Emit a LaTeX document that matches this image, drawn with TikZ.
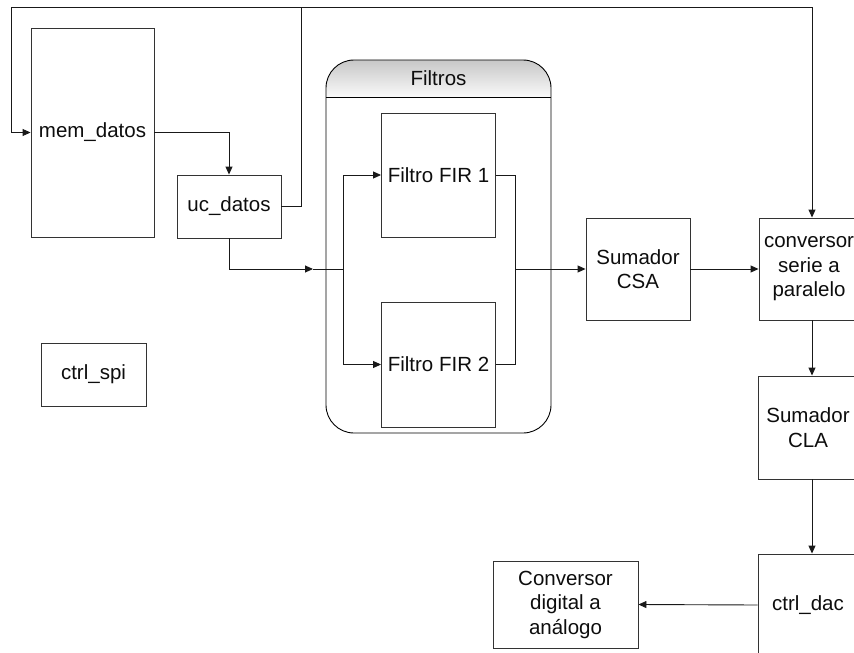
\documentclass[tikz,border=0pt]{standalone}
\usepackage{fontspec}
\setmainfont{Liberation Sans}
\usetikzlibrary{arrows.meta}
\begin{document}
\begin{tikzpicture}[x=1pt,y=-1pt,
  block/.style={draw=black!80, line width=0.9pt, rectangle, align=center,
    inner sep=0pt, font=\fontsize{20.5}{24.5}\selectfont, text=black!95},
  wire/.style={line width=0.9pt, draw=black!90},
  arrow/.style={wire, -{Triangle[length=8pt,width=7pt]}}]
  \useasboundingbox (0,0) rectangle (854,653);
  \clip (0,0) rectangle (854,653);

  % group frame of the two filters, with shaded title bar
  \begin{scope}
    \clip[rounded corners=28pt] (326,60) rectangle (551,433);
    \shade[top color=black!22, bottom color=black!2] (326,60) rectangle (551,97);
  \end{scope}
  \draw[line width=0.9pt, rounded corners=28pt] (326,60) rectangle (551,433);
  \draw[line width=0.9pt] (326,97) -- (551,97);
  \node[font=\fontsize{20.5}{24.5}\selectfont, text=black!95] (filtros) at (438.5,78) {Filtros};

  % blocks
  \node[block, minimum width=123pt, minimum height=209pt] (mem)  at (92.5,132.5) {mem\_datos};
  \node[block, minimum width=104pt, minimum height=63pt]  (uc)   at (229,206.5)  {uc\_datos};
  \node[block, minimum width=114pt, minimum height=124pt] (fir1) at (438.5,175)  {Filtro FIR 1};
  \node[block, minimum width=114pt, minimum height=125pt] (fir2) at (438.5,364.5) {Filtro FIR 2};
  \node[block, minimum width=104pt, minimum height=102pt] (csa)  at (638,269)    {Sumador\\CSA};
  \node[block, minimum width=100pt, minimum height=102pt] (conv) at (809,269)    {conversor\\serie a\\paralelo};
  \node[block, minimum width=100pt, minimum height=103pt] (cla)  at (808,427.5)  {Sumador\\CLA};
  \node[block, minimum width=100pt, minimum height=102pt] (dac)  at (808,605)    {ctrl\_dac};
  \node[block, minimum width=145pt, minimum height=87pt]  (dconv) at (565.5,604.5) {Conversor\\digital a\\análogo};
  \node[block, minimum width=105pt, minimum height=63pt]  (spi)  at (93.5,374.5) {ctrl\_spi};

  % routing points
  \coordinate (tl)  at (11,7);
  \coordinate (uj)  at (301,7);
  \coordinate (tr)  at (812,7);
  \coordinate (am)  at (313,269);
  \coordinate (spl) at (343,269);
  \coordinate (mrg) at (515,269);

  % feedback loop over the top
  \draw[wire] (uc.east) -- (uc.east -| uj) -- (uj);
  \draw[arrow] (uj) -- (tl) -- (tl |- mem.west) -- (mem.west);
  \draw[arrow] (uj) -- (tr) -- (tr |- conv.north);

  % data path
  \draw[arrow] (mem.east) -| (uc.north);
  \draw[arrow] (uc.south) |- (am);
  \draw[wire] (am) -- (spl);
  \draw[arrow] (spl) |- (fir1.west);
  \draw[arrow] (spl) |- (fir2.west);
  \draw[wire] (fir1.east) -| (mrg);
  \draw[wire] (fir2.east) -| (mrg);
  \draw[arrow] (mrg) -- (csa.west);
  \draw[arrow] (csa.east) -- (conv.west);
  \draw[arrow] (conv.south -| tr) -- (cla.north -| tr);
  \draw[arrow] (cla.south -| tr) -- (dac.north -| tr);
  \draw[arrow] (dac.west) -- (dconv.east);
\end{tikzpicture}
\end{document}
